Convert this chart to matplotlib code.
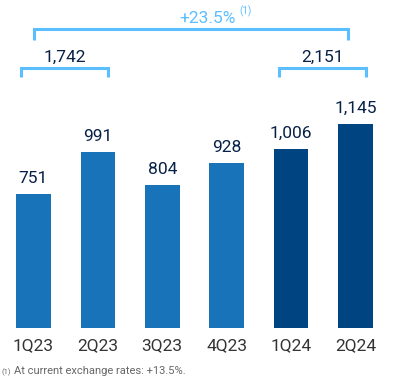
import matplotlib
matplotlib.use("Agg")
import matplotlib.pyplot as plt

quarters = ["1Q23", "2Q23", "3Q23", "4Q23", "1Q24", "2Q24"]
values = [751, 991, 804, 928, 1006, 1145]
value_labels = ["751", "991", "804", "928", "1,006", "1,145"]
half_year_totals = ["1,742", "2,151"]
growth_label = "+23.5%"
footnote = "At current exchange rates: +13.5%."

LIGHT = "#1973B8"
DARK = "#004481"
BRACKET = "#5BBEFF"
NAVY = "#072146"

plt.rcParams["font.family"] = ["Roboto", "DejaVu Sans"]

fig = plt.figure(figsize=(3.94, 3.81), dpi=100)
ax = fig.add_axes([0, 53 / 381, 1, 328 / 381])
ax.set_xlim(-0.52, 5.598)
ax.set_ylim(0, 1843)
for s in ax.spines.values():
    s.set_visible(False)
ax.set_yticks([])

x = list(range(len(quarters)))
colors = [LIGHT] * 4 + [DARK] * 2
ax.bar(x, values, width=0.54, color=colors)
for xi, v, lab in zip(x, values, value_labels):
    ax.text(xi, v + 45, lab, ha="center", va="bottom", fontsize=12.5, color=NAVY)

ax.set_xticks(x)
ax.set_xticklabels(quarters, fontsize=12.5, color="#333333")
ax.tick_params(axis="x", length=0, pad=7)


def bracket(x0, x1, y, drop):
    ax.plot([x0, x0, x1, x1], [y - drop, y, y, y - drop], color=BRACKET, lw=2.2,
            solid_joinstyle="miter", solid_capstyle="butt", clip_on=False)


bracket(-0.2, 1.16, 1461, 50)
ax.text(0.48, 1480, half_year_totals[0], ha="center", va="bottom", fontsize=12.5, color=NAVY)
bracket(3.81, 5.16, 1461, 50)
ax.text(4.48, 1480, half_year_totals[1], ha="center", va="bottom", fontsize=12.5, color=NAVY)
bracket(0.012, 4.88, 1680, 60)
ax.text(2.27, 1695, growth_label, ha="left", va="bottom", fontsize=12.5, color=BRACKET)
ax.text(3.2, 1745, "(1)", ha="left", va="bottom", fontsize=7, color=BRACKET)

fig.text(0.005, 0.014, "(1)", ha="left", va="bottom", fontsize=5.5, color="#666666")
fig.text(0.035, 0.012, footnote, ha="left", va="bottom", fontsize=8, color="#666666")

fig.savefig("out.png", dpi=100)
